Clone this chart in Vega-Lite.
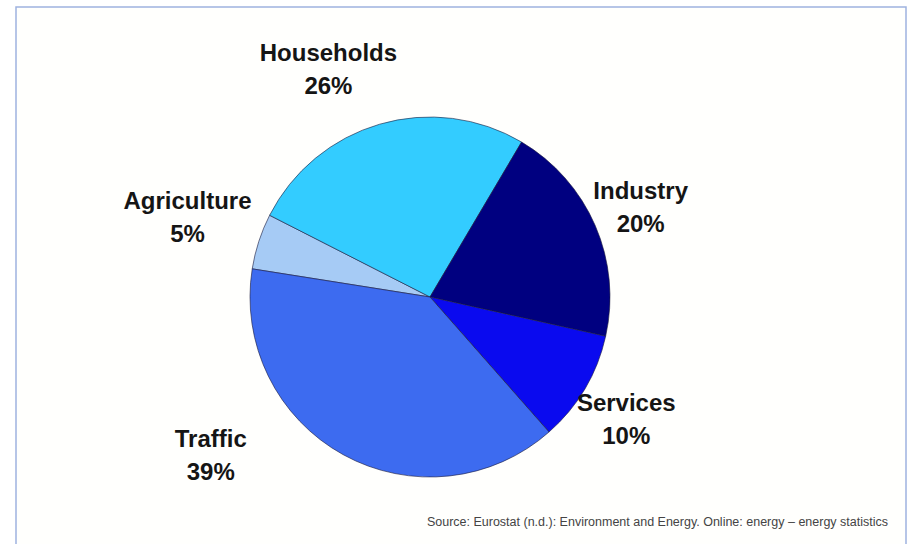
{
  "$schema": "https://vega.github.io/schema/vega-lite/v6.json",
  "width": 890,
  "height": 540,
  "autosize": {"type": "none"},
  "padding": {"left": 16, "top": 7, "right": 7, "bottom": 0},
  "background": "white",
  "view": {"stroke": "#9fb3df", "strokeWidth": 1.5, "fill": "#fffffd"},
  "title": {
    "text": "Source: Eurostat (n.d.): Environment and Energy. Online: energy – energy statistics",
    "orient": "bottom",
    "anchor": "end",
    "offset": -31,
    "dx": -18,
    "font": "Liberation Sans",
    "fontSize": 12.5,
    "fontWeight": "normal",
    "color": "#444444"
  },
  "data": {
    "values": [
      {"sector": "Agriculture", "share": 0.05},
      {"sector": "Households", "share": 0.26},
      {"sector": "Industry", "share": 0.20},
      {"sector": "Services", "share": 0.10},
      {"sector": "Traffic", "share": 0.39}
    ]
  },
  "encoding": {
    "theta": {
      "field": "share",
      "type": "quantitative",
      "stack": true,
      "scale": {"range": [4.8695, 11.1527]}
    },
    "order": {"field": "sector", "type": "nominal", "sort": "ascending"}
  },
  "layer": [
    {
      "mark": {
        "type": "arc",
        "outerRadius": 180,
        "x": {"expr": "width/2-31"},
        "y": {"expr": "height/2+20"},
        "stroke": "#1a1a3a",
        "strokeWidth": 0.6
      },
      "encoding": {
        "color": {
          "field": "sector",
          "type": "nominal",
          "scale": {
            "domain": ["Agriculture", "Households", "Industry", "Services", "Traffic"],
            "range": ["#a6cbf5", "#33ccff", "#000080", "#0a0aef", "#3d6bf0"]
          },
          "legend": null
        }
      }
    },
    {
      "mark": {
        "type": "text",
        "radius": 235,
        "x": {"expr": "width/2-31"},
        "y": {"expr": "height/2+20"},
        "font": "Liberation Sans",
        "fontSize": 24,
        "fontWeight": "bold",
        "fill": "#151515",
        "baseline": "middle",
        "align": "center",
        "dx": {"expr": "datum.sector==='Traffic' ? -106 : datum.sector==='Households' ? -36 : datum.sector==='Agriculture' ? -19 : datum.sector==='Industry' ? -5 : -6"},
        "dy": {"expr": "(datum.sector==='Traffic' ? -47 : datum.sector==='Households' ? -1 : datum.sector==='Agriculture' ? -6 : datum.sector==='Industry' ? 4 : 3) - 16"}
      },
      "encoding": {
        "detail": {"field": "sector", "type": "nominal"},
        "text": {"field": "sector", "type": "nominal"}
      }
    },
    {
      "mark": {
        "type": "text",
        "radius": 235,
        "x": {"expr": "width/2-31"},
        "y": {"expr": "height/2+20"},
        "font": "Liberation Sans",
        "fontSize": 24,
        "fontWeight": "bold",
        "fill": "#151515",
        "baseline": "middle",
        "align": "center",
        "dx": {"expr": "datum.sector==='Traffic' ? -106 : datum.sector==='Households' ? -36 : datum.sector==='Agriculture' ? -19 : datum.sector==='Industry' ? -5 : -6"},
        "dy": {"expr": "(datum.sector==='Traffic' ? -47 : datum.sector==='Households' ? -1 : datum.sector==='Agriculture' ? -6 : datum.sector==='Industry' ? 4 : 3) + 17"}
      },
      "encoding": {
        "detail": {"field": "sector", "type": "nominal"},
        "text": {"field": "share", "type": "quantitative", "format": ".0%"}
      }
    }
  ]
}
